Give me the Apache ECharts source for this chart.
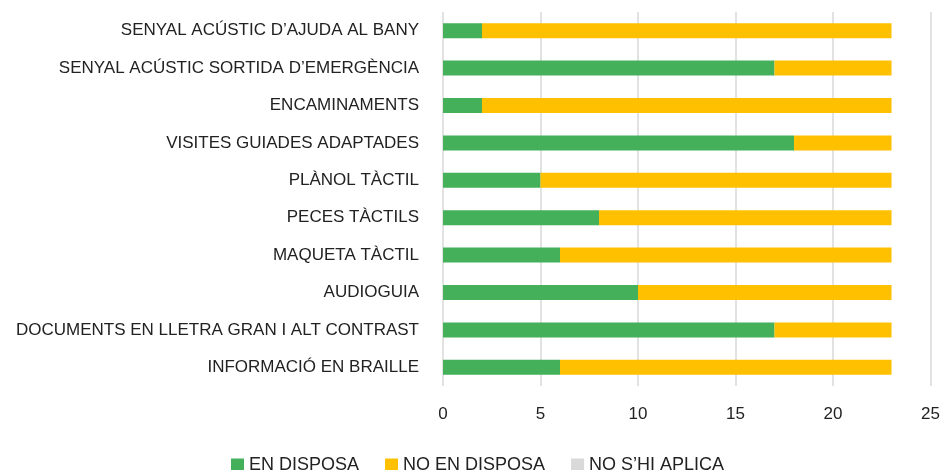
<!DOCTYPE html>
<html>
<head>
<meta charset="utf-8">
<script src="https://cdn.jsdelivr.net/npm/echarts@6/dist/echarts.min.js"></script>
<style>
  html, body { margin: 0; padding: 0; background: #fff; }
  #chart { width: 943px; height: 470px; }
</style>
</head>
<body>
<div id="chart"></div>
<script>
// categories listed top to bottom as in the picture
const categories = [
  'SENYAL ACÚSTIC D’AJUDA AL BANY',
  'SENYAL ACÚSTIC SORTIDA D’EMERGÈNCIA',
  'ENCAMINAMENTS',
  'VISITES GUIADES ADAPTADES',
  'PLÀNOL TÀCTIL',
  'PECES TÀCTILS',
  'MAQUETA TÀCTIL',
  'AUDIOGUIA',
  'DOCUMENTS EN LLETRA GRAN I ALT CONTRAST',
  'INFORMACIÓ EN BRAILLE'
]
const enDisposa = [2, 17, 2, 18, 5, 8, 6, 10, 17, 6]
const noEnDisposa = [21, 6, 21, 5, 18, 15, 17, 13, 6, 17]
const noShiAplica = [0, 0, 0, 0, 0, 0, 0, 0, 0, 0]
const seriesNames = ['EN DISPOSA', 'NO EN DISPOSA', 'NO S’HI APLICA']

const chart = echarts.init(document.getElementById('chart'), null, { renderer: 'canvas' })
const font = 'Liberation Sans, Arial, Helvetica, sans-serif'

const option = {
  animation: false,
  color: ['#44B05A', '#FFC000', '#D9D9D9'],
  textStyle: { fontFamily: font },
  grid: {
    left: 443,
    right: 10,
    top: 12,
    bottom: 84
  },
  legend: {
    data: seriesNames,
    left: 226,
    top: 451,
    icon: 'rect',
    itemWidth: 13,
    itemHeight: 13,
    itemGap: 26,
    textStyle: { fontSize: 18, color: '#222', fontFamily: font }
  },
  xAxis: {
    type: 'value',
    min: 0,
    max: 25,
    interval: 5,
    axisLine: { show: false },
    axisTick: { show: false },
    axisLabel: { fontSize: 17, color: '#222', margin: 20 },
    splitLine: { lineStyle: { color: '#D9D9D9', width: 1.5 } }
  },
  yAxis: {
    type: 'category',
    inverse: true,
    data: categories,
    axisLine: { show: false },
    axisTick: { show: false },
    axisLabel: { fontSize: 17, color: '#222', margin: 24 }
  },
  series: [{
    name: seriesNames[0],
    type: 'bar',
    stack: 'total',
    barWidth: 15,
    data: enDisposa
  }, {
    name: seriesNames[1],
    type: 'bar',
    stack: 'total',
    barWidth: 15,
    data: noEnDisposa
  }, {
    name: seriesNames[2],
    type: 'bar',
    stack: 'total',
    barWidth: 15,
    data: noShiAplica
  }]
}
chart.setOption(option)
</script>
</body>
</html>
